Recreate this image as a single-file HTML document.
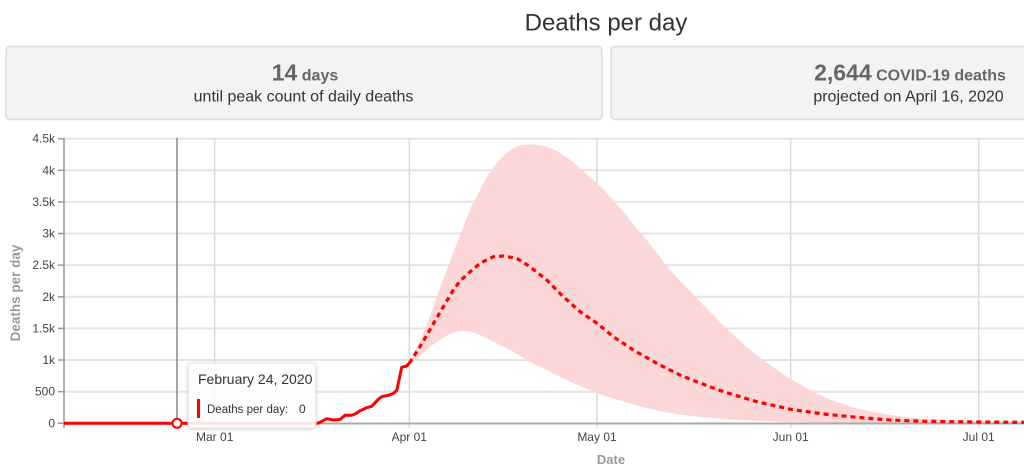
<!DOCTYPE html>
<html>
<head>
<meta charset="utf-8">
<style>
  html, body { margin:0; padding:0; background:#fff; }
  body { width:1024px; height:473px; overflow:hidden; }
  svg { display:block; font-family:"Liberation Sans", Arial, sans-serif; }
</style>
</head>
<body>
<svg width="1024" height="473" viewBox="0 0 1024 473" xmlns="http://www.w3.org/2000/svg">
  <defs>
    <filter id="sh" x="-20%" y="-20%" width="140%" height="150%">
      <feDropShadow dx="0" dy="1" stdDeviation="1.5" flood-color="#000" flood-opacity="0.18"/>
    </filter>
  </defs>

  <!-- Title -->
  <text x="606" y="30.5" text-anchor="middle" font-size="24" fill="#333">Deaths per day</text>

  <!-- Stat boxes -->
  <rect x="6" y="46.5" width="596" height="73" rx="4" fill="#f3f3f5" stroke="#dcdcdc" stroke-width="1.5"/>
  <rect x="611" y="46.5" width="600" height="73" rx="4" fill="#f3f3f5" stroke="#dcdcdc" stroke-width="1.5"/>

  <text x="305" y="80.7" text-anchor="middle" font-weight="bold" fill="#666"><tspan font-size="23">14</tspan><tspan font-size="16"> days</tspan></text>
  <text x="303.5" y="101.7" text-anchor="middle" font-size="16" fill="#333">until peak count of daily deaths</text>

  <text x="910" y="80.7" text-anchor="middle" font-weight="bold" fill="#666"><tspan font-size="23">2,644</tspan><tspan font-size="16"> COVID-19 deaths</tspan></text>
  <text x="908.5" y="101.7" text-anchor="middle" font-size="16" fill="#333">projected on April 16, 2020</text>

  <!-- Horizontal gridlines -->
  <g stroke="#e4e4e4" stroke-width="2">
    <line x1="64" y1="138.7" x2="1024" y2="138.7"/>
    <line x1="64" y1="170.3" x2="1024" y2="170.3"/>
    <line x1="64" y1="201.9" x2="1024" y2="201.9"/>
    <line x1="64" y1="233.5" x2="1024" y2="233.5"/>
    <line x1="64" y1="265.1" x2="1024" y2="265.1"/>
    <line x1="64" y1="296.8" x2="1024" y2="296.8"/>
    <line x1="64" y1="328.4" x2="1024" y2="328.4"/>
    <line x1="64" y1="360" x2="1024" y2="360"/>
    <line x1="64" y1="391.7" x2="1024" y2="391.7"/>
  </g>
  <!-- Vertical gridlines -->
  <g stroke="#dadada" stroke-width="1.5">
    <line x1="214.7" y1="138" x2="214.7" y2="428"/>
    <line x1="409.3" y1="138" x2="409.3" y2="428"/>
    <line x1="597" y1="138" x2="597" y2="428"/>
    <line x1="790.7" y1="138" x2="790.7" y2="428"/>
    <line x1="978.7" y1="138" x2="978.7" y2="428"/>
  </g>

  <!-- Uncertainty band -->
  <path fill="#fcd7d7" d="M409.3,363 L420,340 L430,316.7 L438,293 L446.7,270 L455,248 L463.3,226.7 L471,207 L480,190 L488,175 L496.7,163.3 L505,154 L513.3,148.3 L521,145 L530,144.3 L538,145 L546.7,146.7 L555,150 L563.3,155 L572,161 L580,168.3 L588,175.5 L597,183.3 L605,191 L613.3,200 L621,209 L630,220 L638,230 L646.7,240 L655,250.5 L663.3,261.5 L671,271 L680,281 L690,291 L700,301.5 L710,312 L720,322 L730,332 L740,341 L750,349.5 L760,357.5 L770,365 L780,372 L790,378.5 L800,384.5 L810,390 L820,395 L830,399.5 L840,403 L850,406.2 L860,409 L870,411.3 L880,413.3 L890,415 L900,416.3 L915,418 L930,419 L950,420 L980,421 L1024,422
  L1024,423.3 L850,423 L790,422 L760,421 L730,419.5 L700,417 L680,414.5 L663.3,411.7 L646,408 L630,403.3 L613,398.5 L597,393.3 L580,386 L566.7,380 L556,375 L546.7,370 L538,366 L530,361.7 L521,356.5 L513.3,351.7 L505,347.5 L496.7,343.3 L488,339 L480,335 L473,332.5 L466.7,331 L460,331 L453.3,332.7 L446,336 L440,340 L431,346 L423.3,353.3 L416,359 L409.3,365 Z"/>

  <!-- Cursor line -->
  <line x1="177" y1="138" x2="177" y2="423" stroke="#888" stroke-width="1.5"/>

  <!-- Axes -->
  <line x1="64" y1="423.5" x2="1024" y2="423.5" stroke="#aaa" stroke-width="2"/>
  <line x1="64" y1="138" x2="64" y2="428" stroke="#999" stroke-width="1.5"/>
  <g stroke="#999" stroke-width="1.5">
    <line x1="58" y1="138.7" x2="64" y2="138.7"/>
    <line x1="58" y1="170.3" x2="64" y2="170.3"/>
    <line x1="58" y1="201.9" x2="64" y2="201.9"/>
    <line x1="58" y1="233.5" x2="64" y2="233.5"/>
    <line x1="58" y1="265.1" x2="64" y2="265.1"/>
    <line x1="58" y1="296.8" x2="64" y2="296.8"/>
    <line x1="58" y1="328.4" x2="64" y2="328.4"/>
    <line x1="58" y1="360" x2="64" y2="360"/>
    <line x1="58" y1="391.7" x2="64" y2="391.7"/>
    <line x1="58" y1="423.3" x2="64" y2="423.3"/>
  </g>

  <!-- Y tick labels -->
  <g font-size="12" fill="#444" text-anchor="end">
    <text x="55" y="142.7">4.5k</text>
    <text x="55" y="174.3">4k</text>
    <text x="55" y="205.9">3.5k</text>
    <text x="55" y="237.5">3k</text>
    <text x="55" y="269.1">2.5k</text>
    <text x="55" y="300.8">2k</text>
    <text x="55" y="332.4">1.5k</text>
    <text x="55" y="364">1k</text>
    <text x="55" y="395.7">500</text>
    <text x="55" y="427.3">0</text>
  </g>

  <!-- X tick labels -->
  <g font-size="12" fill="#444" text-anchor="middle">
    <text x="214.7" y="441">Mar 01</text>
    <text x="409.3" y="441">Apr 01</text>
    <text x="597" y="441">May 01</text>
    <text x="790.7" y="441">Jun 01</text>
    <text x="978.7" y="441">Jul 01</text>
  </g>

  <!-- Axis titles -->
  <text x="611" y="464" text-anchor="middle" font-size="13" font-weight="bold" fill="#999">Date</text>
  <text transform="translate(20,293) rotate(-90)" text-anchor="middle" font-size="13.5" font-weight="bold" fill="#999">Deaths per day</text>

  <!-- Actual line -->
  <path fill="none" stroke="#ff0000" stroke-width="3" stroke-linejoin="round" d="M64,423.3 L318,423.3 L326.7,418.7 L333.3,420 L340,419.5 L345,415.3 L351.7,415.3 L356,413.5 L360,410.7 L366.7,407.7 L371.7,406.3 L378.3,399.3 L381.7,396.7 L389.3,395 L393,393.5 L396.7,390.7 L401.7,367.3 L406.7,366 L409.3,363"/>

  <!-- Projected dotted line -->
  <path fill="none" stroke="#ff0000" stroke-width="3.2" stroke-dasharray="5,4" d="M409.3,363.3 L420,346.7 L431.7,326.7 L443.3,306.7 L453.3,290 L460,281 L468.3,273.3 L480,263.3 L493.3,256.7 L503.3,256 L516.7,258.3 L530,266.7 L546.7,280 L563.3,296.7 L580,311.7 L597,323.3 L613.3,336.7 L633.3,350 L656.7,363.3 L680,375 L696.7,381.7 L723.3,391.7 L756.7,401.7 L790.7,409.3 L823.3,414 L856.7,417.3 L890,420 L923.3,421.3 L978.7,422 L1024,422.3"/>

  <!-- Marker -->
  <circle cx="177" cy="423.3" r="4.5" fill="#fff" stroke="#ff0000" stroke-width="2"/>

  <!-- Tooltip -->
  <rect x="188" y="363" width="128" height="65" rx="4" fill="#fff" fill-opacity="0.88" stroke="#e2e2e2" stroke-width="1" filter="url(#sh)"/>
  <text x="198" y="384" font-size="14" fill="#333">February 24, 2020</text>
  <rect x="197" y="399" width="3" height="19" fill="#ff0000"/>
  <text x="207" y="413" font-size="11.5" fill="#333">Deaths per day:</text>
  <text x="299" y="413" font-size="12" fill="#333">0</text>
</svg>
</body>
</html>
